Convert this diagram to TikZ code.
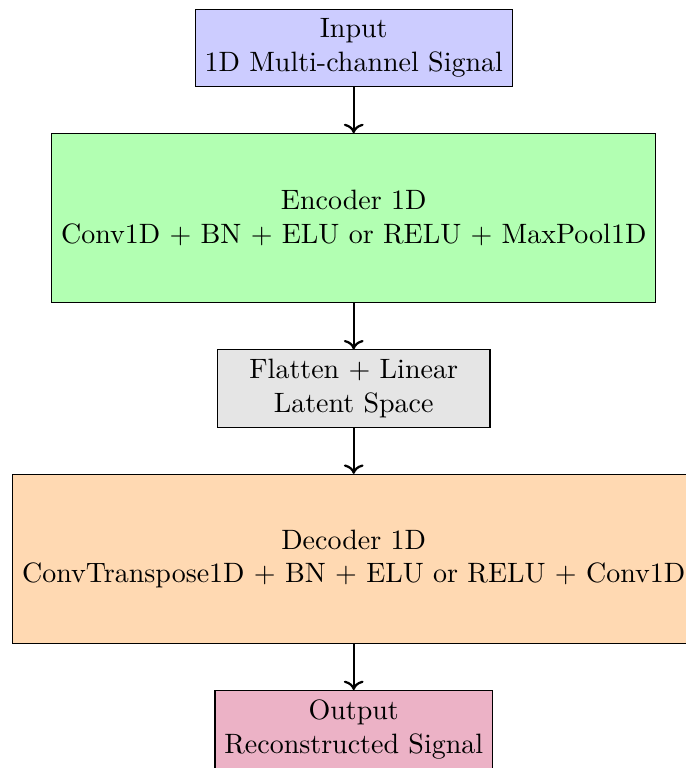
\documentclass[tikz,border=0pt]{standalone}
\usepackage{tikz}
\usetikzlibrary{arrows.meta,positioning}

\begin{document}
\begin{tikzpicture}[>=To, node distance=0.58cm, block/.style={draw, align=center}]
\useasboundingbox (-4.44,-9.04) rectangle (4.17,0.6);
\node[block, fill=blue!20] (input) at (0,0) {Input\\1D Multi-channel Signal};
\node[block, fill=green!30, minimum height=2.12cm, below=of input] (enc) {Encoder 1D\\Conv1D + BN + ELU or RELU + MaxPool1D};
\node[block, fill=gray!20, minimum width=3.42cm, below=of enc] (latent) {Flatten + Linear\\Latent Space};
\node[block, fill=orange!30, minimum height=2.12cm, below=of latent] (dec) {Decoder 1D\\ConvTranspose1D + BN + ELU or RELU + Conv1D};
\node[block, fill=purple!30, below=of dec] (output) {Output\\Reconstructed Signal};
\foreach \a/\b in {input/enc, enc/latent, latent/dec, dec/output}
  \draw[thick,->] (\a) -- (\b);
\end{tikzpicture}
\end{document}
